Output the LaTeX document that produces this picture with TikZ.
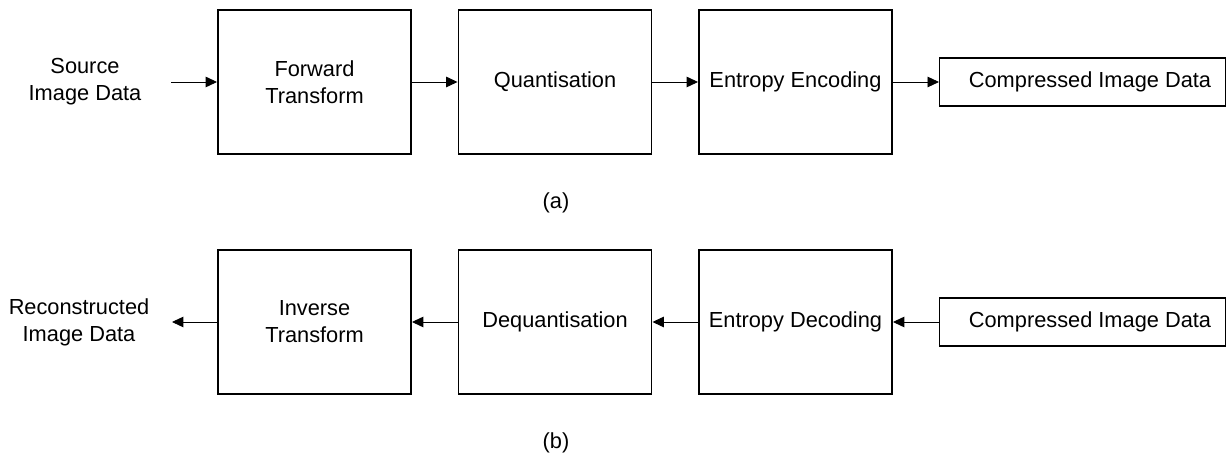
\documentclass[tikz,border=0pt]{standalone}
\usepackage{fontspec}
\setmainfont{Liberation Sans}
\usepackage{tikz}
\usetikzlibrary{arrows.meta}

\begin{document}
\begin{tikzpicture}[
        font=\fontsize{12.4}{15.3}\selectfont,
        block/.style={draw, line width=1.1pt, minimum width=3.86cm, minimum height=2.88cm, inner sep=0pt, align=center},
        databox/.style={draw, line width=0.6pt, minimum width=5.72cm, minimum height=0.96cm, inner sep=0pt},
        conn/.style={line width=0.5pt, -{Triangle[length=6.5pt, width=6pt]}}
    ]
        \useasboundingbox (0,0) rectangle (24.58,9.18);

        % (a) compression
        \node[align=center] (src) at (1.70,7.54) {Source\\Image Data};
        \coordinate (srcout) at (3.42,7.54);
        \node[block] (fwd) at (6.29,7.54) {Forward\\Transform};
        \node[block] (quant) at (11.10,7.54) {Quantisation};
        \node[block] (enc) at (15.91,7.54) {Entropy Encoding};
        \node[databox] (cout) at (21.65,7.54) {\hspace{0.3cm}Compressed Image Data};
        \node (la) at (11.12,5.12) {(a)};

        % (b) decompression
        \node[align=center] (rec) at (1.58,2.74) {Reconstructed\\Image Data};
        \coordinate (recin) at (3.44,2.74);
        \node[block] (inv) at (6.29,2.74) {Inverse\\Transform};
        \node[block] (dequant) at (11.10,2.74) {Dequantisation};
        \node[block] (dec) at (15.91,2.74) {Entropy Decoding};
        \node[databox] (cin) at (21.65,2.74) {\hspace{0.3cm}Compressed Image Data};
        \node (lb) at (11.12,0.32) {(b)};

        \draw[conn] (srcout) -- (fwd);
        \draw[conn] (fwd) -- (quant);
        \draw[conn] (quant) -- (enc);
        \draw[conn] (enc) -- (cout);

        \draw[conn] (cin) -- (dec);
        \draw[conn] (dec) -- (dequant);
        \draw[conn] (dequant) -- (inv);
        \draw[conn] (inv) -- (recin);
    \end{tikzpicture}
\end{document}
